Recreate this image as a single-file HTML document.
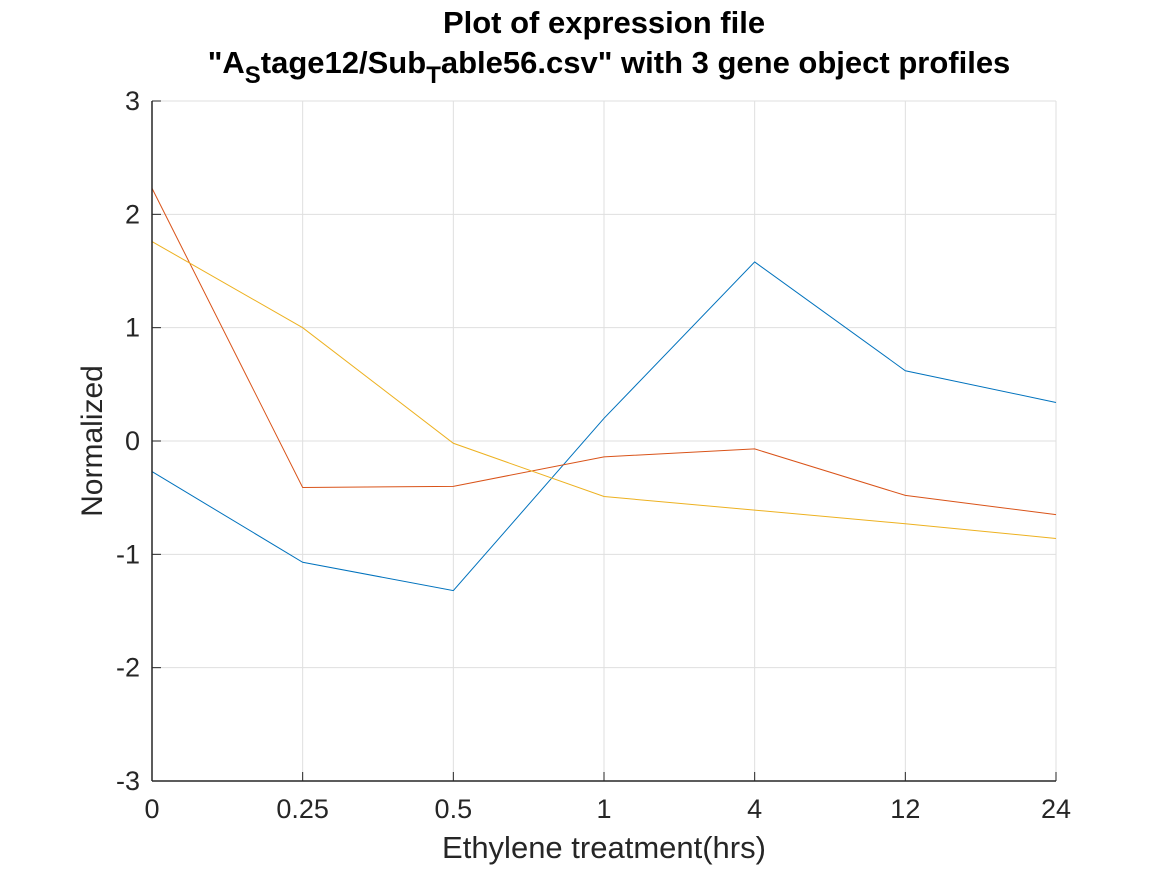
<!DOCTYPE html>
<html><head><meta charset="utf-8"><style>
body{margin:0;background:#fff;}
svg text{font-family:"Liberation Sans",Arial,sans-serif;fill:#262626;}
</style></head><body>
<svg id="chart" width="1167" height="875" xmlns="http://www.w3.org/2000/svg">
<rect width="1167" height="875" fill="#fff"/>
<g id="grid"></g>
<g id="series"></g>
<g id="axes"></g>
<text x="604" y="33" text-anchor="middle" font-size="31" font-weight="bold" style="fill:#000">Plot of expression file</text>
<text x="609" y="73" text-anchor="middle" font-size="31" font-weight="bold" style="fill:#000">"A<tspan font-size="24" dy="10">S</tspan><tspan dy="-10">tage12/Sub</tspan><tspan font-size="24" dy="10">T</tspan><tspan dy="-10">able56.csv" with 3 gene object profiles</tspan></text>
<text x="604" y="858" text-anchor="middle" font-size="31">Ethylene treatment(hrs)</text>
<text transform="translate(102,441) rotate(-90)" text-anchor="middle" font-size="30">Normalized</text>
</svg>
<script>
const categories=["0","0.25","0.5","1","4","12","24"];
const yTicks=[-3,-2,-1,0,1,2,3];
const seriesBlue=[-0.27,-1.07,-1.32,0.2,1.58,0.62,0.34];
const seriesOrange=[2.23,-0.41,-0.40,-0.14,-0.07,-0.48,-0.65];
const seriesYellow=[1.76,1.0,-0.02,-0.49,-0.61,-0.73,-0.86];
const L=152,R=1056,T=101,B=781;
const xS=i=>L+i*(R-L)/(categories.length-1);
const yS=v=>B-(v+3)/6*(B-T);
const NS="http://www.w3.org/2000/svg";
function mk(tag,attrs,parent){const e=document.createElementNS(NS,tag);for(const k in attrs)e.setAttribute(k,attrs[k]);parent.appendChild(e);return e;}
const grid=document.getElementById('grid'),axes=document.getElementById('axes'),ser=document.getElementById('series');
categories.forEach((c,i)=>{
  const g=mk('line',{x1:xS(i),x2:xS(i),y1:T,y2:B,stroke:'#dfdfdf','stroke-width':1},grid);
  
  
  const t=mk('line',{x1:xS(i),x2:xS(i),y1:B,y2:B-9,stroke:'#262626','stroke-width':1},axes);
  
  
  const tx=mk('text',{x:xS(i),y:B+37,'text-anchor':'middle','font-size':27},axes);
  tx.textContent=c;
  
  
});
yTicks.forEach(v=>{
  const g=mk('line',{x1:L,x2:R,y1:yS(v),y2:yS(v),stroke:'#dfdfdf','stroke-width':1},grid);
  
  
  const t=mk('line',{x1:L,x2:L+9,y1:yS(v),y2:yS(v),stroke:'#262626','stroke-width':1},axes);
  
  
  const tx=mk('text',{x:L-12,y:yS(v)+9,'text-anchor':'end','font-size':27},axes);
  tx.textContent=String(v);
  
  
});
const xa=mk('line',{x1:L,x2:R,y1:B,y2:B,stroke:'#262626','stroke-width':1.5},axes);


const ya=mk('line',{x1:L,x2:L,y1:T,y2:B,stroke:'#262626','stroke-width':1.5},axes);


[[seriesBlue,'#0072bd','series-gene-1'],[seriesOrange,'#d95319','series-gene-2'],[seriesYellow,'#edb120','series-gene-3']].forEach(([d,c,n])=>{
  const p=mk('polyline',{points:d.map((v,i)=>xS(i)+','+yS(v)).join(' '),fill:'none',stroke:c,'stroke-width':1},ser);
  
  
});
</script>
</body></html>
